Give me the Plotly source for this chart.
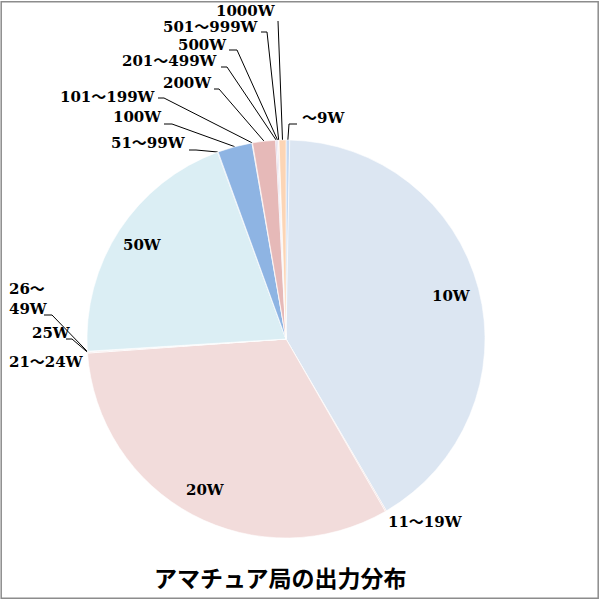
import numpy as np
import plotly.graph_objects as go

# output power classes (percent share)
labels = ["～9W", "10W", "11～19W", "20W", "21～24W", "25W", "26～49W", "50W",
          "51～99W", "100W", "101～199W", "200W", "201～499W", "500W", "501～999W", "1000W"]
shares = [0.30, 41.3, 0.10, 32.2, 0.05, 0.05, 0.05, 20.4,
          0.05, 2.8, 0.05, 1.86, 0.10, 0.12, 0.05, 0.56]
colors = ["#C6D9F1", "#DCE6F2", "#F2DCDB", "#F2DCDB", "#F2DCDB", "#E6B9B8", "#DBEEF4", "#DBEEF4",
          "#B7CCE6", "#8EB4E3", "#E6B9B8", "#E6B9B8", "#CCC0DA", "#E6E0EC", "#FDE9D9", "#FCD5B5"]
title = "アマチュア局の出力分布"

W, H = 600, 600
CX, CY, R = 286, 339, 199  # pie centre / radius in pixels

# label placement (pixels): (x, y, xanchor) ; None -> inside label computed from the slice
label_pos = {
    "～9W": (300, 118, "left"),
    "10W": None,
    "11～19W": (425, 522, "center"),
    "20W": None,
    "21～24W": (7, 362, "left"),
    "25W": (30, 333, "left"),
    "26～49W": (7, 299, "left"),
    "50W": None,
    "51～99W": (188, 143, "right"),
    "100W": (164, 117, "right"),
    "101～199W": (158, 97, "right"),
    "200W": (214, 83, "right"),
    "201～499W": (220, 61, "right"),
    "500W": (229, 45, "right"),
    "501～999W": (261, 27, "right"),
    "1000W": (246, 11, "center"),
}
# leader line points on the label side; the last point is the slice edge
leader_pts = {
    "～9W": [(297, 124), (289, 124)],
    "25W": [(66, 339), (72, 339)],
    "26～49W": [(44, 315), (52, 315)],
    "51～99W": [(189, 150), (196, 150)],
    "100W": [(164, 124), (172, 124)],
    "101～199W": [(158, 98), (164, 98)],
    "200W": [(214, 89), (219, 89)],
    "201～499W": [(221, 67), (227, 67)],
    "500W": [(229, 50), (237, 50)],
    "501～999W": [(261, 32), (267, 32)],
    "1000W": [(278, 21)],
}

vals = np.array(shares, dtype=float)
frac = vals / vals.sum()
ends = np.cumsum(frac) * 360
starts = ends - frac * 360
mids = np.radians((starts + ends) / 2)


def polar(theta, r):
    return CX + r * np.sin(theta), CY - r * np.cos(theta)


fig = go.Figure()
fig.add_trace(go.Pie(
    labels=labels, values=shares, sort=False, direction="clockwise", rotation=0,
    textinfo="none", hoverinfo="label+percent", showlegend=False,
    marker=dict(colors=colors, line=dict(color="white", width=0.6)),
    domain=dict(x=[(CX - R) / W, (CX + R) / W],
                y=[(H - CY - R) / H, (H - CY + R) / H]),
))

lbl_font = dict(family="DejaVu Serif, Noto Sans CJK JP", size=15, color="black", weight="bold")
annotations = []
for i, lab in enumerate(labels):
    pos = label_pos[lab]
    if pos is None:
        x, y = polar(mids[i], R * 0.86)
        anchor = "center"
    else:
        x, y, anchor = pos
    text = "26～<br>49W" if lab == "26～49W" else lab
    annotations.append(dict(x=x, y=y, xref="x", yref="y", text=text, showarrow=False,
                            xanchor=anchor, yanchor="middle", align="left", font=lbl_font))
    if lab in leader_pts:
        ex, ey = polar(mids[i], R)
        pts = leader_pts[lab] + [(ex, ey)]
        fig.add_trace(go.Scatter(x=[p[0] for p in pts], y=[p[1] for p in pts], mode="lines",
                                 line=dict(color="black", width=1), hoverinfo="skip",
                                 showlegend=False))

annotations.append(dict(x=280, y=577, xref="x", yref="y", text=title, showarrow=False,
                        font=dict(family="Noto Sans CJK JP", size=23, color="black", weight="bold")))

fig.update_layout(
    width=W, height=H, margin=dict(l=0, r=0, t=0, b=0),
    paper_bgcolor="white", plot_bgcolor="rgba(0,0,0,0)",
    xaxis=dict(range=[0, W], visible=False, fixedrange=True),
    yaxis=dict(range=[H, 0], visible=False, fixedrange=True),
    annotations=annotations,
    shapes=[dict(type="rect", xref="paper", yref="paper", x0=0.002, y0=0.003, x1=0.997, y1=0.997,
                 line=dict(color="#8C8C8C", width=1.5))],
)

# page body has a default 8px margin; drop it so the chart sits at the window corner
fig.write_html("out.html", config={"displayModeBar": False},
               post_script="document.body.style.margin='0px';")
